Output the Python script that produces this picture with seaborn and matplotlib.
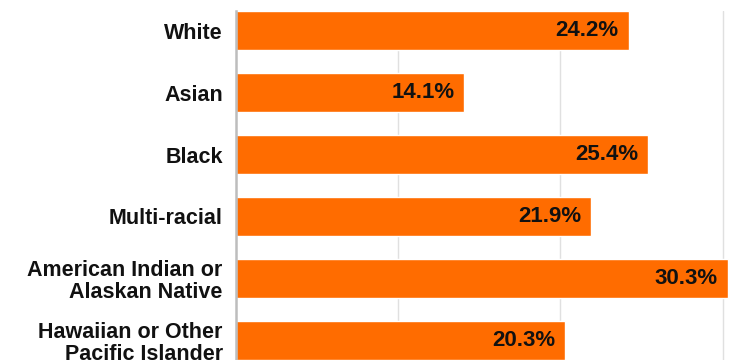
import matplotlib
matplotlib.use("Agg")
import matplotlib.pyplot as plt
import seaborn as sns
import pandas as pd

groups = [
    "White",
    "Asian",
    "Black",
    "Multi-racial",
    "American Indian or\nAlaskan Native",
    "Hawaiian or Other\nPacific Islander",
]
rates = [24.2, 14.1, 25.4, 21.9, 30.3, 20.3]

df = pd.DataFrame({"group": groups, "rate": rates})

sns.set_theme(style="white")
plt.rcParams["font.family"] = ["Liberation Sans", "DejaVu Sans"]

fig = plt.figure(figsize=(7.37, 3.6), dpi=100)
W, H = 737, 360
x0 = 235.5
px_per_unit = 16.24
ax = fig.add_axes([x0 / W, 0, (W - x0) / W, (H - 11) / H])

bar_color = "#FF6C00"
sns.barplot(data=df, x="rate", y="group", orient="h", color=bar_color,
            saturation=1, width=0.63, ax=ax)

ax.set_xlim(0, (W - x0) / px_per_unit)
ax.set_ylim(5.315, -0.315)

ax.set_xticks([10, 20, 30])
ax.xaxis.grid(True, color="#E0E0E0", linewidth=1.0)
ax.set_axisbelow(True)
ax.tick_params(axis="x", bottom=False, labelbottom=False)
ax.tick_params(axis="y", left=False, pad=3.2)
ax.set_xlabel("")
ax.set_ylabel("")

for lbl in ax.get_yticklabels():
    lbl.set_fontsize(15.5)
    lbl.set_fontweight("bold")
    lbl.set_color("#111111")
    lbl.set_horizontalalignment("right")
    lbl.set_multialignment("right")
    lbl.set_linespacing(1.08)

for side in ["top", "right", "bottom"]:
    ax.spines[side].set_visible(False)
ax.spines["left"].set_color("#BDBDBD")
ax.spines["left"].set_linewidth(1.8)

for i, v in enumerate(rates):
    ax.text(v - 0.62, i, f"{v}%", ha="right", va="center",
            fontsize=16, fontweight="bold", color="#111111")

fig.savefig("out.png", dpi=100)
